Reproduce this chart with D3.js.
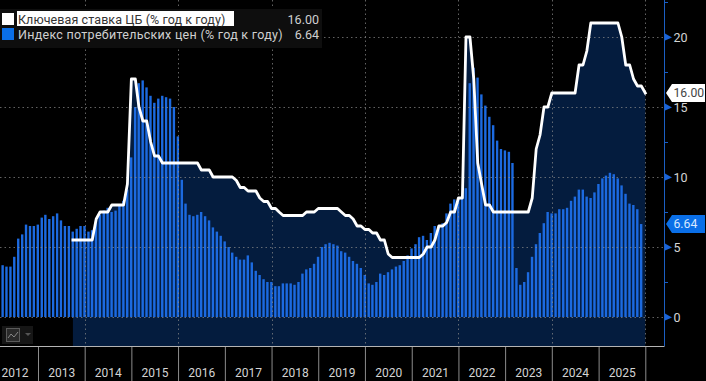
<!DOCTYPE html>
<html>
<head>
<meta charset="utf-8">
<script src="https://cdnjs.cloudflare.com/ajax/libs/d3/7.8.5/d3.min.js"></script>
<style>
  html, body { margin: 0; padding: 0; background: #000; overflow: hidden; }
  svg { display: block; }
  text { font-family: Roboto, sans-serif; }
</style>
</head>
<body>
<div id="chart"></div>
<script>
// month-end readings, first entry is the month named in the *Start variable
const cpiStart = "2012-03";
const cpiValues = [
  3.7, 3.6, 3.6, 4.3, 5.6, 5.9, 6.6, 6.5, 6.5, 6.6,
  7.1, 7.3, 7.0, 7.2, 7.4, 6.9, 6.5, 6.5, 6.1, 6.3, 6.5, 6.5,
  6.1, 6.2, 6.9, 7.3, 7.6, 7.8, 7.5, 7.6, 8.0, 8.3, 9.1, 11.4,
  15.0, 16.7, 16.9, 16.4, 15.8, 15.3, 15.6, 15.8, 15.7, 15.6, 15.0, 12.9,
  9.8, 8.1, 7.3, 7.2, 7.3, 7.5, 7.2, 6.9, 6.4, 6.1, 5.8, 5.4,
  5.0, 4.6, 4.3, 4.1, 4.1, 4.4, 3.9, 3.3, 3.0, 2.7, 2.5, 2.5,
  2.2, 2.2, 2.4, 2.4, 2.4, 2.3, 2.5, 3.1, 3.4, 3.5, 3.8, 4.3,
  5.0, 5.2, 5.3, 5.2, 5.1, 4.7, 4.6, 4.3, 4.0, 3.8, 3.5, 3.0,
  2.4, 2.3, 2.5, 3.1, 3.0, 3.2, 3.4, 3.6, 3.7, 4.0, 4.4, 4.9,
  5.2, 5.7, 5.8, 5.5, 6.0, 6.5, 6.5, 6.7, 7.4, 8.1, 8.4, 8.4,
  8.7, 9.2, 16.7, 17.8, 17.1, 15.9, 15.1, 14.3, 13.7, 12.6, 12.0, 11.9,
  11.8, 11.0, 3.5, 2.3, 2.5, 3.2, 4.3, 5.2, 6.0, 6.7, 7.5, 7.4,
  7.4, 7.7, 7.7, 7.8, 8.3, 8.6, 9.1, 9.1, 8.6, 8.5, 8.9, 9.5,
  9.9, 10.1, 10.3, 10.2, 9.9, 9.4, 8.8, 8.1, 8.0, 7.7, 6.64
];

const rateStart = "2013-09";
const rateValues = [
  5.5, 5.5, 5.5, 5.5,
  5.5, 5.5, 7, 7.5, 7.5, 7.5, 8, 8, 8, 8, 9.5, 17,
  17, 15, 14, 14, 12.5, 11.5, 11.5, 11, 11, 11, 11, 11,
  11, 11, 11, 11, 11, 10.5, 10.5, 10.5, 10, 10, 10, 10,
  10, 10, 9.75, 9.25, 9.25, 9, 9, 9, 8.5, 8.25, 8.25, 7.75,
  7.75, 7.5, 7.25, 7.25, 7.25, 7.25, 7.25, 7.25, 7.5, 7.5, 7.5, 7.75,
  7.75, 7.75, 7.75, 7.75, 7.75, 7.5, 7.25, 7.25, 7, 6.5, 6.5, 6.25,
  6.25, 6, 6, 5.5, 5.5, 4.5, 4.25, 4.25, 4.25, 4.25, 4.25, 4.25,
  4.25, 4.25, 4.5, 5, 5, 5.5, 6.5, 6.5, 6.75, 7.5, 7.5, 8.5,
  8.5, 20, 20, 17, 11, 9.5, 8, 8, 7.5, 7.5, 7.5, 7.5,
  7.5, 7.5, 7.5, 7.5, 7.5, 7.5, 8.5, 12, 13, 15, 15, 16,
  16, 16, 16, 16, 16, 16, 18, 18, 19, 21, 21, 21,
  21, 21, 21, 21, 21, 20, 18, 18, 17, 16.5, 16.5, 16
];

const yearTicks = d3.range(2013, 2027);
const yearLabels = d3.range(2012, 2026);
const gridYears = [2014, 2016, 2018, 2020, 2022, 2024, 2026];
const yLabels = [0, 5, 10, 15, 20];
const yMinor = [2.5, 7.5, 12.5, 17.5, 22.5];

const legendNames = ["Ключевая ставка ЦБ (% год к году)", "Индекс потребительских цен (% год к году)"];
const legendValues = ["16.00", "6.64"];

function monthEnds(start, n) {
  let d = d3.utcParse("%Y-%m")(start);
  return d3.range(n).map(i => d3.utcMonth.offset(d, i + 1));
}

const width = 706, height = 381;
const plot = {left: 0, right: 664.5, top: 0, bottom: 346};

const x = d3.scaleUtc()
  .domain([new Date(Date.UTC(2013, 0, 1)), new Date(Date.UTC(2026, 0, 1))])
  .range([38, 645.3]);
const y = d3.scaleLinear().domain([0, 20]).range([317, 37]);

const cpi = monthEnds(cpiStart, cpiValues.length).map((d, i) => ({date: d, value: cpiValues[i]}));
const rate = monthEnds(rateStart, rateValues.length).map((d, i) => ({date: d, value: rateValues[i]}));

const svg = d3.select("#chart").append("svg").attr("width", width).attr("height", height);
svg.append("rect").attr("width", width).attr("height", height).attr("fill", "#000");

// navy area under the rate line
const area = d3.area().x(d => x(d.date)).y0(plot.bottom).y1(d => y(d.value));
svg.append("path").datum(rate).attr("d", area).attr("fill", "#041c3e");

// cpi bars
svg.append("g").selectAll("rect").data(cpi).enter().append("rect")
  .attr("x", d => x(d.date) - 1.4)
  .attr("width", 2.4)
  .attr("y", d => y(d.value))
  .attr("height", d => y(0) - y(d.value))
  .attr("fill", "#1c6ae0");

// grid, sits over the bars
const grid = svg.append("g").attr("stroke", "#8c8c8c").attr("stroke-opacity", 0.7)
  .attr("stroke-dasharray", "1.5,3").attr("stroke-width", 1);
grid.selectAll(".h").data(yLabels).enter().append("line")
  .attr("x1", plot.left).attr("x2", plot.right)
  .attr("y1", d => y(d) + 0.5).attr("y2", d => y(d) + 0.5);
grid.selectAll(".v").data(gridYears).enter().append("line")
  .attr("x1", d => Math.round(x(new Date(Date.UTC(d, 0, 1)))) + 0.5)
  .attr("x2", d => Math.round(x(new Date(Date.UTC(d, 0, 1)))) + 0.5)
  .attr("y1", plot.top).attr("y2", plot.bottom);

// rate line
const line = d3.line().x(d => x(d.date)).y(d => y(d.value));
svg.append("path").datum(rate).attr("d", line)
  .attr("fill", "none").attr("stroke", "#fff").attr("stroke-width", 2.8)
  .attr("stroke-linejoin", "round").attr("stroke-linecap", "square");

// bottom axis: tick lines on year starts, labels mid-year
const xTicks = d3.axisBottom(x)
  .tickValues(yearTicks.map(d => new Date(Date.UTC(d, 0, 1))))
  .tickSize(35).tickFormat("");
const xg = svg.append("g").attr("transform", "translate(0," + plot.bottom + ")").call(xTicks);
xg.select(".domain").remove();
xg.selectAll("line").attr("stroke", "#8c8c8c");

const xLabels = d3.axisBottom(x)
  .tickValues(yearLabels.map(d => new Date(Date.UTC(d, 6, 1))))
  .tickSize(0).tickFormat(d3.utcFormat("%Y"));
const xl = svg.append("g").attr("transform", "translate(0," + plot.bottom + ")").call(xLabels);
xl.select(".domain").remove();
xl.selectAll("text").attr("y", 30.5).attr("dy", 0).attr("fill", "#d4d4d4").attr("font-size", 12)
  .attr("font-family", "Roboto, sans-serif");

svg.append("line").attr("x1", 0).attr("x2", plot.right).attr("y1", plot.bottom + 0.5).attr("y2", plot.bottom + 0.5)
  .attr("stroke", "#b4b4b4");

// right axis
const yAxis = d3.axisRight(y).tickValues(yLabels).tickSize(0).tickPadding(9).tickFormat(d3.format("d"));
const yg = svg.append("g").attr("transform", "translate(" + plot.right + ",0)").call(yAxis);
yg.select(".domain").remove();
yg.selectAll("text").attr("fill", "#d4d4d4").attr("font-size", 12.5).attr("font-family", "Roboto, sans-serif");
svg.append("line").attr("x1", plot.right).attr("x2", plot.right).attr("y1", 0).attr("y2", plot.bottom)
  .attr("stroke", "#1b5fc4").attr("stroke-width", 1);
svg.append("g").selectAll("path").data(yLabels).enter().append("path")
  .attr("d", d => "M665," + (y(d) - 3.5) + "L672," + (y(d) + 0.5) + "L665," + (y(d) + 3.5) + "Z")
  .attr("fill", "#1b64d8");
svg.append("g").selectAll("line").data(yMinor).enter().append("line")
  .attr("x1", 665).attr("x2", 668).attr("y1", d => y(d) + 0.5).attr("y2", d => y(d) + 0.5)
  .attr("stroke", "#1b5fc4");

// last value tags
function tag(value, label, fill, color) {
  let c = y(value);
  svg.append("path")
    .attr("d", "M666," + c + "L672," + (c - 9) + "H705V" + (c + 9) + "H672Z")
    .attr("fill", fill);
  svg.append("text").attr("x", 673.5).attr("y", c + 4.3).attr("font-size", 12.2)
    .attr("fill", color).text(label);
}
tag(16, legendValues[0], "#fff", "#444");
tag(6.64, legendValues[1], "#0a6fe8", "#d8e8ff");

// legend
svg.append("rect").attr("x", 0).attr("y", 9).attr("width", 322).attr("height", 39).attr("fill", "#0e0e0e");
svg.append("rect").attr("x", 2).attr("y", 13).attr("width", 12).attr("height", 12).attr("fill", "#fff");
svg.append("rect").attr("x", 2).attr("y", 28).attr("width", 12).attr("height", 12).attr("fill", "#0a6fe8");
svg.append("rect").attr("x", 17).attr("y", 11).attr("width", 217).attr("height", 15).attr("fill", "#fff");
svg.append("text").attr("x", 18).attr("y", 24).attr("font-size", 12.5).attr("letter-spacing", 0.09).attr("fill", "#333").text(legendNames[0]);
svg.append("text").attr("x", 18).attr("y", 39).attr("font-size", 12.5).attr("letter-spacing", 0.28).attr("fill", "#d0d0d0").text(legendNames[1]);
svg.append("text").attr("x", 319).attr("y", 24).attr("font-size", 12.5).attr("text-anchor", "end").attr("fill", "#d0d0d0").text(legendValues[0]);
svg.append("text").attr("x", 319).attr("y", 39).attr("font-size", 12.5).attr("text-anchor", "end").attr("fill", "#d0d0d0").text(legendValues[1]);

// chart type button
svg.append("rect").attr("x", 2).attr("y", 326).attr("width", 31).attr("height", 18).attr("fill", "#161616");
svg.append("rect").attr("x", 6.5).attr("y", 328.5).attr("width", 13).attr("height", 13).attr("fill", "#2a2a2a").attr("stroke", "#5a5a5a");
svg.append("path").attr("d", "M8,338L11,334L14,337L18,332").attr("fill", "none").attr("stroke", "#888");
svg.append("path").attr("d", "M25,333H31L28,336Z").attr("fill", "#555");
</script>
</body>
</html>
